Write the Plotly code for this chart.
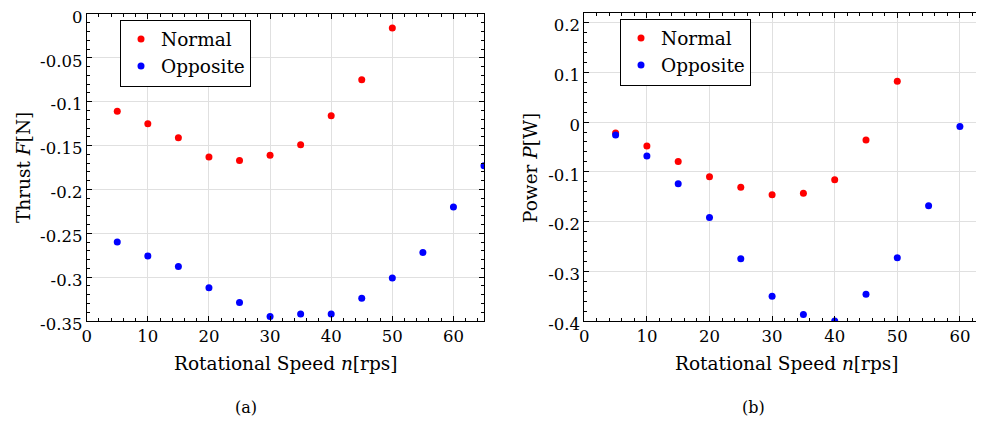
import plotly.graph_objects as go

# ---- data ----
speed_a = [5, 10, 15, 20, 25, 30, 35, 40, 45, 50]
thrust_normal = [-0.111, -0.125, -0.141, -0.163, -0.167, -0.161, -0.149, -0.116, -0.075, -0.016]
speed_a_opp = [5, 10, 15, 20, 25, 30, 35, 40, 45, 50, 55, 60, 65]
thrust_opposite = [-0.260, -0.276, -0.288, -0.312, -0.329, -0.345, -0.342, -0.342, -0.324, -0.301, -0.272, -0.220, -0.173]

speed_b = [5, 10, 15, 20, 25, 30, 35, 40, 45, 50]
power_normal = [-0.022, -0.048, -0.079, -0.110, -0.131, -0.146, -0.143, -0.116, -0.036, 0.082]
speed_b_opp = [5, 10, 15, 20, 25, 30, 35, 40, 45, 50, 55, 60]
power_opposite = [-0.026, -0.068, -0.124, -0.192, -0.275, -0.350, -0.387, -0.400, -0.346, -0.273, -0.168, -0.009]

x_ticks = [0, 10, 20, 30, 40, 50, 60]
x_ticktext = ["0", "10", "20", "30", "40", "50", "60"]
ya_ticks = [0, -0.05, -0.1, -0.15, -0.2, -0.25, -0.3, -0.35]
ya_ticktext = ["0", "-0.05", "-0.1", "-0.15", "-0.2", "-0.25", "-0.3", "-0.35"]
yb_ticks = [0.2, 0.1, 0, -0.1, -0.2, -0.3, -0.4]
yb_ticktext = ["0.2", "0.1", "0", "-0.1", "-0.2", "-0.3", "-0.4"]

FONT = "DejaVu Serif"
RED = "#ff0000"
BLUE = "#0000ff"
MS = 7

W, H = 976, 413  # page body has an 8px margin


def px(xp):
    return (xp - 8) / W


def py(yp):
    return 1 - (yp - 8) / H


fig = go.Figure()
fig.add_trace(go.Scatter(x=speed_a, y=thrust_normal, mode="markers", name="Normal",
                         marker=dict(color=RED, size=MS), xaxis="x", yaxis="y", legend="legend"))
fig.add_trace(go.Scatter(x=speed_a_opp, y=thrust_opposite, mode="markers", name="Opposite",
                         marker=dict(color=BLUE, size=MS), xaxis="x", yaxis="y", legend="legend"))
fig.add_trace(go.Scatter(x=speed_b, y=power_normal, mode="markers", name="Normal",
                         marker=dict(color=RED, size=MS), xaxis="x2", yaxis="y2", legend="legend2"))
fig.add_trace(go.Scatter(x=speed_b_opp, y=power_opposite, mode="markers", name="Opposite",
                         marker=dict(color=BLUE, size=MS), xaxis="x2", yaxis="y2", legend="legend2"))

common = dict(showline=True, linecolor="black", linewidth=1, ticks="inside", ticklen=5,
              tickcolor="black", tickwidth=1, showgrid=True, gridcolor="#e0e0e0", gridwidth=1,
              zeroline=False, automargin=False, ticklabeloverflow="allow",
              tickfont=dict(family=FONT, size=16.5, color="black"))

fig.update_layout(
    template="none",
    width=W, height=H,
    margin=dict(l=0, r=0, t=0, b=0, pad=0),
    plot_bgcolor="white", paper_bgcolor="white",
    font=dict(family=FONT, color="black"),
    xaxis=dict(domain=[px(86.7), px(484)], range=[0, 65], tickvals=x_ticks, ticktext=x_ticktext,
               mirror="allticks", anchor="y",
               minor=dict(dtick=2, ticks="inside", ticklen=3, tickcolor="black", showgrid=False),
               **common),
    yaxis=dict(domain=[py(321), py(14)], range=[-0.35, 0], tickvals=ya_ticks, ticktext=ya_ticktext,
               mirror="allticks", anchor="x", ticklabelshift=3,
               minor=dict(dtick=0.01, ticks="inside", ticklen=3, tickcolor="black", showgrid=False),
               **common),
    xaxis2=dict(domain=[px(584.3), 1.0], range=[0, 63.85], tickvals=x_ticks, ticktext=x_ticktext,
                mirror="allticks", anchor="y2",
                minor=dict(dtick=2, ticks="inside", ticklen=3, tickcolor="black", showgrid=False),
                **common),
    yaxis2=dict(domain=[py(321), py(12.7)], range=[-0.4, 0.22], tickvals=yb_ticks, ticktext=yb_ticktext,
                mirror=False, anchor="x2", ticklabelshift=3,
                minor=dict(dtick=0.02, ticks="inside", ticklen=3, tickcolor="black", showgrid=False),
                **common),
    legend=dict(x=px(120), y=py(19.5), xanchor="left", yanchor="top", bordercolor="black", borderwidth=1,
                bgcolor="white", font=dict(family=FONT, size=18.5, color="black"),
                itemwidth=30, tracegroupgap=0),
    legend2=dict(x=px(620), y=py(18.5), xanchor="left", yanchor="top", bordercolor="black", borderwidth=1,
                 bgcolor="white", font=dict(family=FONT, size=18.5, color="black"),
                 itemwidth=30, tracegroupgap=0),
    showlegend=True,
)

ann_font = dict(family=FONT, size=18.5, color="black")
annotations = [
    dict(text="Rotational Speed <i>n</i>[rps]", x=px(285), y=py(363), xref="paper", yref="paper",
         showarrow=False, font=ann_font, xanchor="center", yanchor="middle"),
    dict(text="Rotational Speed <i>n</i>[rps]", x=px(786), y=py(363), xref="paper", yref="paper",
         showarrow=False, font=ann_font, xanchor="center", yanchor="middle"),
    dict(text="Thrust <i>F</i>[N]", x=px(23), y=py(168), xref="paper", yref="paper",
         showarrow=False, font=ann_font, textangle=-90, xanchor="center", yanchor="middle"),
    dict(text="Power <i>P</i>[W]", x=px(530), y=py(168), xref="paper", yref="paper",
         showarrow=False, font=ann_font, textangle=-90, xanchor="center", yanchor="middle"),
    dict(text="(a)", x=px(246), y=py(407), xref="paper", yref="paper",
         showarrow=False, font=dict(family=FONT, size=16, color="black"), xanchor="center", yanchor="middle"),
    dict(text="(b)", x=px(753), y=py(407), xref="paper", yref="paper",
         showarrow=False, font=dict(family=FONT, size=16, color="black"), xanchor="center", yanchor="middle"),
]
fig.update_layout(annotations=annotations)

fig.write_html("out.html")
